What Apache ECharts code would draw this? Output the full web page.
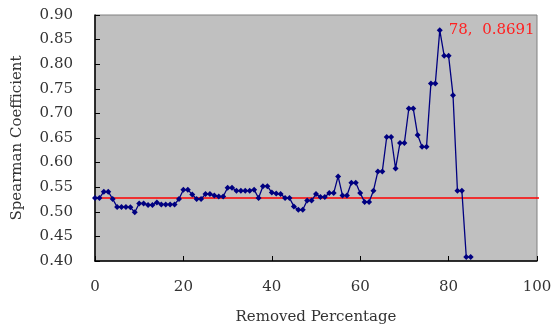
<!DOCTYPE html>
<html>
<head>
<meta charset="utf-8">
<script src="https://cdn.jsdelivr.net/npm/echarts@6/dist/echarts.min.js"></script>
<style>
  html, body { margin: 0; padding: 0; background: #fff; }
  #chart { width: 553px; height: 329px; }
</style>
</head>
<body>
<div id="chart"></div>
<script>
// removed percentage (x) and spearman coefficient (y)
const removedPct = [
  0, 1, 2, 3, 4, 5, 6, 7, 8, 9,
  10, 11, 12, 13, 14, 15, 16, 17, 18, 19,
  20, 21, 22, 23, 24, 25, 26, 27, 28, 29,
  30, 31, 32, 33, 34, 35, 36, 37, 38, 39,
  40, 41, 42, 43, 44, 45, 46, 47, 48, 49,
  50, 51, 52, 53, 54, 55, 56, 57, 58, 59,
  60, 61, 62, 63, 64, 65, 66, 67, 68, 69,
  70, 71, 72, 73, 74, 75, 76, 77, 78, 79,
  80, 81, 82, 83, 84, 85
]
const spearman = [
  0.528, 0.528, 0.541, 0.541, 0.526, 0.510, 0.510, 0.510, 0.509, 0.499,
  0.517, 0.517, 0.514, 0.514, 0.519, 0.515, 0.515, 0.515, 0.515, 0.526,
  0.545, 0.545, 0.535, 0.526, 0.526, 0.536, 0.536, 0.533, 0.531, 0.531,
  0.549, 0.549, 0.543, 0.543, 0.543, 0.543, 0.545, 0.528, 0.552, 0.552,
  0.539, 0.537, 0.536, 0.528, 0.528, 0.511, 0.504, 0.504, 0.523, 0.523,
  0.536, 0.530, 0.530, 0.538, 0.538, 0.572, 0.533, 0.533, 0.559, 0.559,
  0.538, 0.520, 0.520, 0.543, 0.582, 0.582, 0.652, 0.652, 0.588, 0.640,
  0.640, 0.710, 0.710, 0.656, 0.632, 0.632, 0.761, 0.761, 0.8691, 0.817,
  0.817, 0.737, 0.543, 0.543, 0.408, 0.408
]
const peakIndex = 78
const peakLabel = '78,  0.8691'

// red reference level (drawn a little past both ends of the axis)
const refLevel = 0.528
const refSpan = [-2.3, 101.9]

const yTicks = { min: 0.4, max: 0.9, interval: 0.05 }
const xTicks = { min: 0, max: 100, interval: 20 }

const chart = echarts.init(document.getElementById('chart'))

const serif = 'DejaVu Serif'

const option = {
  animation: false,
  grid: {
    left: 95,
    right: 16,
    top: 15,
    bottom: 68,
    outerBoundsMode: 'none',
    containLabel: false,
    show: true,
    backgroundColor: '#c0c0c0',
    borderColor: '#808080',
    borderWidth: 1
  },
  xAxis: {
    type: 'value',
    min: xTicks.min,
    max: xTicks.max,
    interval: xTicks.interval,
    name: 'Removed Percentage',
    nameLocation: 'middle',
    nameGap: 49,
    nameTextStyle: { fontFamily: serif, fontSize: 15, color: '#333' },
    axisLine: { lineStyle: { color: '#000', width: 1.5 } },
    axisTick: { inside: true, length: 5, lineStyle: { color: '#000' } },
    axisLabel: { fontFamily: serif, fontSize: 15, color: '#333', margin: 19 },
    splitLine: { show: false }
  },
  yAxis: {
    type: 'value',
    min: yTicks.min,
    max: yTicks.max,
    interval: yTicks.interval,
    name: 'Spearman Coefficient',
    nameLocation: 'middle',
    nameGap: 70,
    nameTextStyle: { fontFamily: serif, fontSize: 15, color: '#333' },
    axisLine: { show: true, lineStyle: { color: '#000', width: 1.5 } },
    axisTick: { show: true, inside: true, length: 5, lineStyle: { color: '#000' } },
    axisLabel: {
      fontFamily: serif,
      fontSize: 15,
      color: '#333',
      margin: 22,
      formatter: v => v.toFixed(2)
    },
    splitLine: { show: false }
  },
  series: [
    {
      name: 'ref',
      type: 'line',
      clip: false,
      symbol: 'none',
      silent: true,
      lineStyle: { color: '#ff0000', width: 1.5 },
      data: refSpan.map(x => [x, refLevel]),
      z: 1
    },
    {
      name: 'spearman',
      type: 'line',
      symbol: 'diamond',
      symbolSize: 6,
      itemStyle: { color: '#000080' },
      lineStyle: { color: '#000080', width: 1.3 },
      data: removedPct.map((x, i) => {
        const item = { value: [x, spearman[i]] }
        if (i === peakIndex) {
          item.label = {
            show: true,
            position: 'right',
            distance: 6,
            formatter: peakLabel,
            color: '#ff2020',
            fontFamily: serif,
            fontSize: 15
          }
        }
        return item
      }),
      z: 2
    }
  ]
}

chart.setOption(option)
</script>
</body>
</html>
